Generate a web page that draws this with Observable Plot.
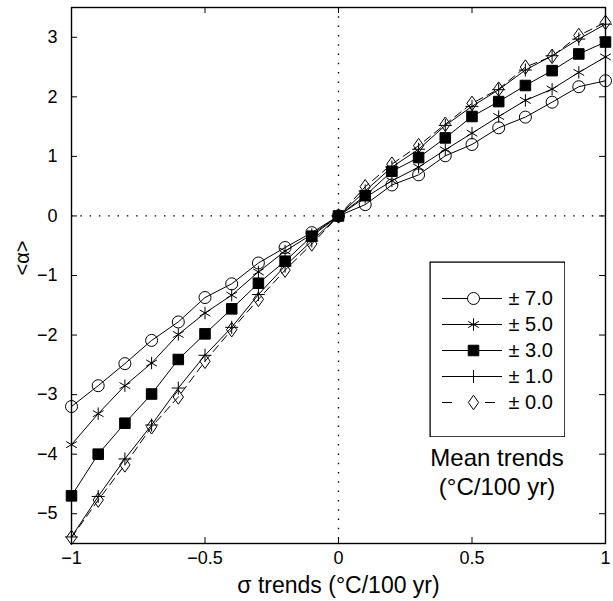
<!DOCTYPE html>
<html><head><meta charset="utf-8">
<script src="https://cdn.jsdelivr.net/npm/d3@7"></script>
<script src="https://cdn.jsdelivr.net/npm/@observablehq/plot@0.6"></script>
<style>
body{margin:0;background:#fff;}
#wrap{position:relative;width:613px;height:601px;font-family:"Liberation Sans",Arial,Helvetica,sans-serif;color:#000;}
#legend{position:absolute;left:429px;top:261px;}
.note{position:absolute;left:429px;width:136px;text-align:center;font-size:24px;line-height:29px;top:443px;color:#000;}
</style></head><body>
<div id="wrap"><div id="chart"></div><div id="legend"></div><div class="note">Mean trends<br>(°C/100 yr)</div></div>
<script>
// ---- data ----
const sigmaTrends = [-1, -0.9, -0.8, -0.7, -0.6, -0.5, -0.4, -0.3, -0.2, -0.1, 0, 0.1, 0.2, 0.3, 0.4, 0.5, 0.6, 0.7, 0.8, 0.9, 1];
const seriesNames = ["± 7.0", "± 5.0", "± 3.0", "± 1.0", "± 0.0"];
const mean70 = [-3.20, -2.85, -2.48, -2.09, -1.78, -1.37, -1.14, -0.79, -0.53, -0.28, 0, 0.19, 0.52, 0.69, 1.01, 1.20, 1.48, 1.66, 1.91, 2.17, 2.27];
const mean50 = [-3.84, -3.32, -2.85, -2.47, -1.99, -1.63, -1.33, -0.94, -0.59, -0.31, 0, 0.31, 0.59, 0.82, 1.11, 1.39, 1.67, 1.94, 2.13, 2.41, 2.67];
const mean30 = [-4.70, -4.00, -3.48, -2.99, -2.41, -1.98, -1.56, -1.13, -0.76, -0.34, 0, 0.34, 0.75, 0.98, 1.31, 1.67, 1.92, 2.19, 2.44, 2.72, 2.92];
const mean10 = [-5.39, -4.71, -4.08, -3.51, -2.89, -2.34, -1.87, -1.32, -0.84, -0.42, 0, 0.42, 0.82, 1.12, 1.52, 1.84, 2.12, 2.45, 2.69, 2.97, 3.22];
const mean00 = [-5.40, -4.77, -4.18, -3.54, -3.04, -2.44, -1.91, -1.40, -0.91, -0.47, 0, 0.49, 0.87, 1.18, 1.54, 1.89, 2.13, 2.50, 2.68, 3.03, 3.25];
const xTicks = [-1, -0.5, 0, 0.5, 1];
const yTicks = [-5, -4, -3, -2, -1, 0, 1, 2, 3];
const xLabel = "σ trends (°C/100 yr)";
const yLabel = "<α>";

// ---- marker shapes (MATLAB-like) ----
const rOf = s => Math.sqrt(s / Math.PI);
const symCircle = {draw(c, s){ const r = rOf(s); c.moveTo(r, 0); c.arc(0, 0, r, 0, 2 * Math.PI); c.closePath(); }};
const symAsterisk = {draw(c, s){ const r = rOf(s); const t = r / 2, u = t * Math.sqrt(3);
  c.moveTo(0, r); c.lineTo(0, -r); c.moveTo(-u, -t); c.lineTo(u, t); c.moveTo(-u, t); c.lineTo(u, -t); }};
const symSquare = {draw(c, s){ const h = rOf(s) * 0.85; c.rect(-h, -h, 2 * h, 2 * h); }};
const symPlus = {draw(c, s){ const r = rOf(s) * 1.05; c.moveTo(-r, 0); c.lineTo(r, 0); c.moveTo(0, -r); c.lineTo(0, r); }};
const symDiamond = {draw(c, s){ const r = rOf(s); const ty = r * 1.17, tx = r * 0.83;
  c.moveTo(0, -ty); c.lineTo(tx, 0); c.lineTo(0, ty); c.lineTo(-tx, 0); c.closePath(); }};

const seriesValues = [mean70, mean50, mean30, mean10, mean00];
const styles = [
  {symbol: symCircle, r: 6, fill: "none", dash: null, legendDash: null},
  {symbol: symAsterisk, r: 6.2, fill: "none", dash: null, legendDash: null},
  {symbol: symSquare, r: 6.2, fill: "black", dash: null, legendDash: null},
  {symbol: symPlus, r: 6.2, fill: "none", dash: null, legendDash: null},
  {symbol: symDiamond, r: 6.2, fill: "none", dash: "8,5", legendDash: "10,33"}
];

const rows = [];
seriesNames.forEach((name, k) => seriesValues[k].forEach((v, i) => rows.push({x: sigmaTrends[i], y: v, name})));

const W = 613, H = 601, ML = 71, MR = 8, MT = 7, MB = 58;
const pw = W - ML - MR, ph = H - MT - MB;
const fmt = d3.format("");
const font = "Liberation Sans, Arial, Helvetica, sans-serif";

const seriesMarks = [];
seriesNames.forEach((name, k) => {
  const st = styles[k];
  const data = rows.filter(d => d.name === name);
  seriesMarks.push(Plot.line(data, {x: "x", y: "y", stroke: "black", strokeWidth: 1, strokeDasharray: st.dash}));
});
seriesNames.forEach((name, k) => {
  const st = styles[k];
  const data = rows.filter(d => d.name === name);
  seriesMarks.push(Plot.dot(data, {x: "x", y: "y", symbol: st.symbol, r: st.r, stroke: "black", strokeWidth: 1, fill: st.fill}));
});

const chart = Plot.plot({
  width: W, height: H,
  marginLeft: ML, marginRight: MR, marginTop: MT, marginBottom: MB,
  style: {fontFamily: font, background: "white", color: "black"},
  x: {domain: [-1, 1], label: null},
  y: {domain: [-5.5, 3.5], label: null},
  marks: [
    Plot.ruleX([0], {stroke: "black", strokeWidth: 1.3, strokeDasharray: "1.5,7.8"}),
    Plot.ruleY([0], {stroke: "black", strokeWidth: 1.3, strokeDasharray: "1.5,7.8"}),
    ...seriesMarks,
    Plot.tickY(yTicks, {y: d => d, insetRight: pw - 6, stroke: "black"}),
    Plot.tickY(yTicks, {y: d => d, insetLeft: pw - 6, stroke: "black"}),
    Plot.tickX(xTicks, {x: d => d, insetTop: ph - 6, stroke: "black"}),
    Plot.tickX(xTicks, {x: d => d, insetBottom: ph - 6, stroke: "black"}),
    Plot.frame({stroke: "black", strokeWidth: 1.4}),
    Plot.axisX(xTicks, {tickSize: 0, tickPadding: 8, tickFormat: fmt, fontSize: 18, label: null}),
    Plot.axisY(yTicks, {tickSize: 0, tickPadding: 14, tickFormat: fmt, fontSize: 18, label: null}),
    Plot.text([xLabel], {text: d => d, frameAnchor: "bottom", dy: 49, fontSize: 23, fill: "black"}),
    Plot.text([yLabel], {text: d => d, frameAnchor: "left", dx: -49, rotate: -90, fontSize: 20, fill: "black"})
  ]
});
document.getElementById("chart").appendChild(chart);

// ---- legend (inside the axes) ----
const legendMarks = [Plot.frame({stroke: "black", strokeWidth: 1.3, inset: 0.6})];
seriesNames.forEach((name, k) => {
  const st = styles[k];
  legendMarks.push(Plot.ruleY([name], {y: d => d, insetLeft: 13, insetRight: 63, stroke: "black", strokeWidth: 1, strokeDasharray: st.legendDash}));
  legendMarks.push(Plot.dot([name], {y: d => d, frameAnchor: "left", dx: 44, symbol: st.symbol, r: st.r, stroke: "black", strokeWidth: 1, fill: st.fill === "none" ? "white" : st.fill}));
});
legendMarks.push(Plot.text(seriesNames, {y: d => d, text: d => d, frameAnchor: "left", dx: 79, textAnchor: "start", fontSize: 20, fill: "black"}));
const legend = Plot.plot({
  width: 136, height: 176, margin: 0,
  style: {fontFamily: font, background: "white", color: "black"},
  y: {type: "point", domain: seriesNames, range: [22, 156], axis: null},
  marks: legendMarks
});
document.getElementById("legend").appendChild(legend);
</script>
</body></html>
